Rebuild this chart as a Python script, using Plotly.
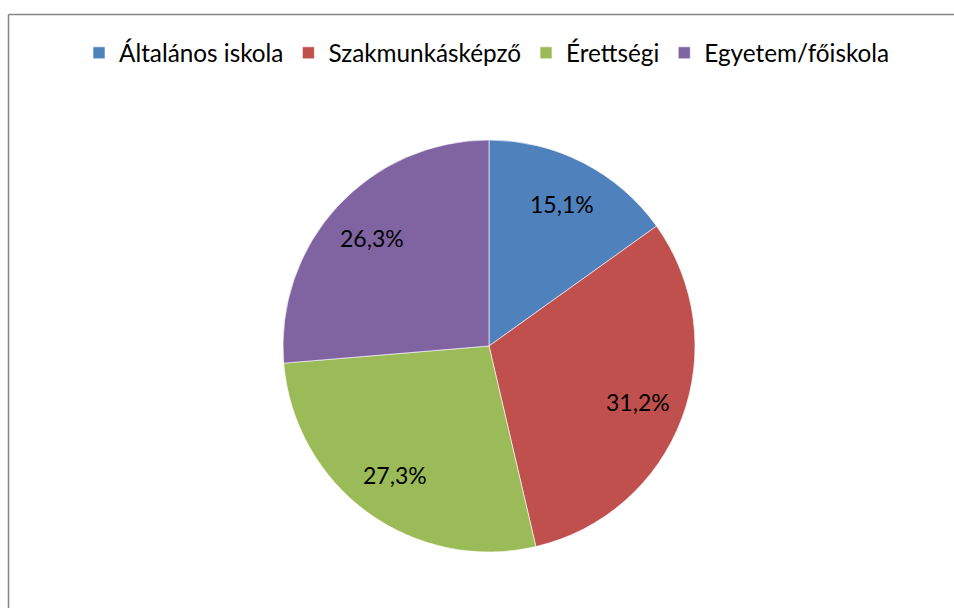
import math
import plotly.graph_objects as go

labels = ["Általános iskola", "Szakmunkásképző", "Érettségi", "Egyetem/főiskola"]
values = [15.1, 31.2, 27.3, 26.3]
text_labels = ["15,1%", "31,2%", "27,3%", "26,3%"]
colors = ["#4F81BD", "#C0504D", "#9BBB59", "#8064A2"]

W, H = 954, 608
cx, cy, r = 489, 346, 206
label_frac = 0.775

fig = go.Figure(go.Pie(
    labels=labels,
    values=values,
    text=text_labels,
    textinfo="none",
    sort=False,
    direction="clockwise",
    rotation=0,
    marker=dict(colors=colors, line=dict(color="white", width=0.6)),
    domain=dict(x=[(cx - r) / W, (cx + r) / W], y=[1 - (cy + r) / H, 1 - (cy - r) / H]),
    hoverinfo="label+text",
))

# data labels placed along each slice's mid angle (computed from the values)
total = sum(values)
cum = 0.0
annotations = []
for v, t in zip(values, text_labels):
    mid = (cum + v / 2) / total * 2 * math.pi
    cum += v
    px = cx + label_frac * r * math.sin(mid)
    py = cy - label_frac * r * math.cos(mid)
    annotations.append(dict(x=px / W, y=1 - py / H, xref="paper", yref="paper", text=t,
                            showarrow=False, xanchor="center", yanchor="middle",
                            font=dict(family="Lato", size=23, color="black")))

fig.update_layout(
    width=W, height=H,
    margin=dict(l=0, r=0, t=0, b=0),
    paper_bgcolor="white",
    font=dict(family="Lato", size=24, color="black"),
    showlegend=True,
    legend=dict(orientation="h", x=0.5 + 10 / W, xanchor="center", y=1 - 53 / H, yanchor="middle",
                font=dict(family="Lato", size=24.3), traceorder="normal", itemwidth=30),
    annotations=annotations,
    shapes=[
        dict(type="line", xref="paper", yref="paper", x0=8.5 / W, x1=1.0, y0=1 - 14.5 / H, y1=1 - 14.5 / H,
             line=dict(color="#868686", width=1.5)),
        dict(type="line", xref="paper", yref="paper", x0=8.5 / W, x1=8.5 / W, y0=0, y1=1 - 14.5 / H,
             line=dict(color="#868686", width=1.5)),
    ],
)

fig.write_html("out.html", config={"displayModeBar": False},
               post_script="document.body.style.margin='0';document.body.style.overflow='hidden';")
